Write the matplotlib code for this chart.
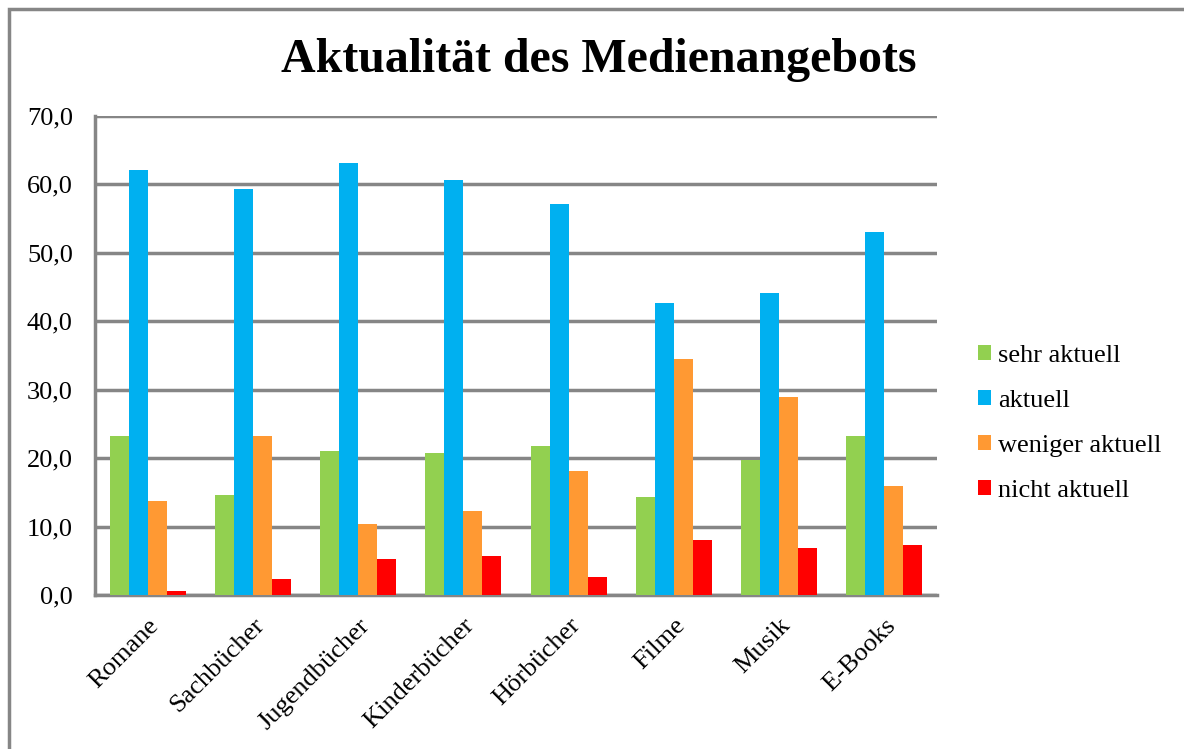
import matplotlib

matplotlib.use("Agg")
import matplotlib.pyplot as plt  # noqa: E402
import numpy as np  # noqa: E402
from matplotlib.patches import Rectangle  # noqa: E402

categories = ["Romane", "Sachbücher", "Jugendbücher", "Kinderbücher",
              "Hörbücher", "Filme", "Musik", "E-Books"]
sehr_aktuell = [23.2, 14.6, 21.0, 20.7, 21.8, 14.3, 19.8, 23.3]
aktuell = [62.1, 59.3, 63.1, 60.7, 57.2, 42.7, 44.2, 53.0]
weniger_aktuell = [13.8, 23.3, 10.4, 12.3, 18.1, 34.5, 28.9, 16.0]
nicht_aktuell = [0.6, 2.4, 5.2, 5.75, 2.6, 8.1, 6.8, 7.3]

series = [
    ("sehr aktuell", sehr_aktuell, "#92d050"),
    ("aktuell", aktuell, "#00b0f0"),
    ("weniger aktuell", weniger_aktuell, "#ff9933"),
    ("nicht aktuell", nicht_aktuell, "#ff0000"),
]
yticks = [0, 10, 20, 30, 40, 50, 60, 70]

plt.rcParams["font.family"] = ["Liberation Serif", "DejaVu Serif"]
grey = "#868686"

fig = plt.figure(figsize=(11.84, 7.49), dpi=100)
ax = fig.add_axes([95 / 1184, 1 - 595 / 749, 842 / 1184, 479 / 749])

x = np.arange(len(categories))
w = 0.18
for i, (name, vals, col) in enumerate(series):
    ax.bar(x + (i - 1.5) * w, vals, width=w, color=col, label=name, zorder=3)

ax.set_xlim(-0.5, len(categories) - 0.5)
ax.set_ylim(0, 70)
ax.set_yticks(yticks)
ax.set_yticklabels([f"{v:.1f}".replace(".", ",") for v in yticks], fontsize=19)
ax.set_xticks(x)
ax.set_xticklabels(categories, rotation=45, ha="right", rotation_mode="anchor", fontsize=19)
ax.tick_params(length=0)
ax.tick_params(axis="y", pad=16)
ax.tick_params(axis="x", pad=14)
ax.yaxis.grid(True, color=grey, linewidth=2.5, zorder=0)
for s in ("top", "right"):
    ax.spines[s].set_visible(False)
for s in ("left", "bottom"):
    ax.spines[s].set_color(grey)
    ax.spines[s].set_linewidth(2.5)

fig.text(0.506, 1 - 60 / 749, "Aktualität des Medienangebots", ha="center", va="center",
         fontsize=34.5, fontweight="bold")

leg = fig.legend(loc="upper left", bbox_to_anchor=(954 / 1184, 1 - 321 / 749), frameon=False,
                 fontsize=19, handlelength=0.5, handleheight=0.5, handletextpad=0.27,
                 labelspacing=0.87)

fig.patches.append(Rectangle((8.5 / 1184, -0.1), 1.2, 1 - 8.5 / 749 + 0.1, transform=fig.transFigure,
                             fill=False, edgecolor=grey, linewidth=2.5))

fig.savefig("out.png", dpi=100)
